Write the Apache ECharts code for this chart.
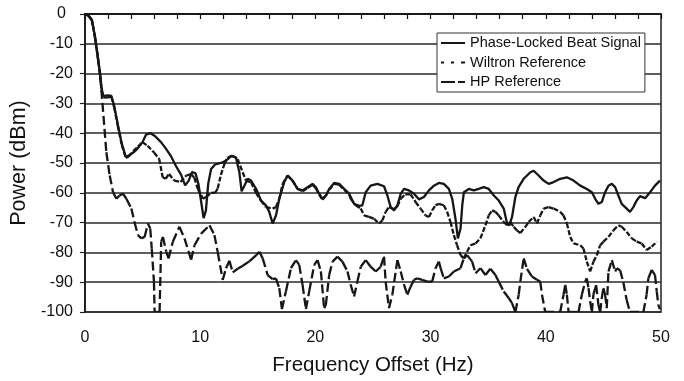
<!DOCTYPE html>
<html><head><meta charset="utf-8">
<script src="https://cdn.jsdelivr.net/npm/echarts@6/dist/echarts.min.js"></script>
<style>html,body{margin:0;padding:0;background:#fff}#c{width:684px;height:381px}</style>
</head><body><div id="c"></div>
<script>
const seriesNames = ['Phase-Locked Beat Signal', 'Wiltron Reference', 'HP Reference'];
const xAxisTitle = 'Frequency Offset (Hz)';
const yAxisTitle = 'Power (dBm)';

const phaseLocked = [[0,0],[0.3,-0.5],[0.6,-2],[0.85,-7],[1.1,-13.7],[1.33,-20.3],[1.45,-25],[1.6,-27.5],[2.0,-27.3],[2.3,-27.5],[2.55,-31],[2.85,-37],[3.2,-43.5],[3.55,-48],[3.8,-47.5],[4.2,-46.5],[4.6,-45],[5.0,-43],[5.3,-40.5],[5.7,-40],[6.1,-41],[6.6,-43],[7.0,-45],[7.45,-47.6],[7.9,-51],[8.35,-54],[8.7,-57.5],[9.0,-56],[9.3,-53],[9.6,-53.5],[9.85,-57],[10.05,-62],[10.3,-68.5],[10.5,-66],[10.7,-57],[10.95,-52],[11.3,-50.5],[11.96,-49.8],[12.4,-48.7],[12.7,-47.6],[13.1,-48.1],[13.4,-53],[13.6,-59.5],[13.84,-57.6],[14.13,-55.3],[14.42,-55.9],[14.9,-59],[15.28,-62.6],[15.71,-64.2],[16.0,-66.4],[16.29,-70.3],[16.58,-67.6],[16.87,-62],[17.3,-56.4],[17.59,-54.2],[18.02,-55.9],[18.46,-58.7],[18.9,-59.2],[19.32,-58.1],[19.75,-57],[20.04,-58.1],[20.33,-60.3],[20.62,-62],[20.91,-60.9],[21.2,-58.7],[21.63,-56.7],[22.07,-57],[22.5,-58.7],[22.93,-60.3],[23.36,-63.7],[23.8,-64.4],[24.08,-64.2],[24.37,-59.8],[24.8,-57.6],[25.38,-57],[25.96,-57.8],[26.25,-60.9],[26.54,-64.8],[26.83,-65.9],[27.12,-64.2],[27.41,-60.3],[27.7,-58.7],[28.12,-59.2],[28.56,-60.3],[28.99,-62.2],[29.42,-61.4],[29.86,-59.2],[30.29,-57.6],[30.72,-56.7],[31.15,-57],[31.59,-58.7],[31.88,-62],[32.16,-68.7],[32.37,-75.3],[32.6,-72],[32.75,-64.2],[32.89,-59.8],[33.32,-58.7],[33.76,-59.2],[34.18,-58.7],[34.62,-58.1],[35.05,-58.7],[35.49,-60.9],[35.92,-62.6],[36.35,-65.3],[36.64,-70.3],[36.84,-70.9],[37.07,-68.1],[37.36,-61.4],[37.65,-58],[38.08,-55.3],[38.66,-53.1],[38.95,-52.6],[39.38,-54.2],[39.81,-55.9],[40.25,-57],[40.68,-56.4],[41.25,-55.3],[41.83,-54.8],[42.41,-55.9],[42.99,-57.6],[43.56,-58.7],[44.0,-59.8],[44.29,-62],[44.57,-63.7],[44.86,-63.1],[45.15,-59.8],[45.44,-57.6],[45.73,-57],[46.02,-58.1],[46.3,-60.9],[46.59,-63.7],[47.02,-65.3],[47.31,-66.4],[47.6,-64.8],[47.89,-62.6],[48.18,-61.1],[48.62,-61.8],[49.05,-59.8],[49.48,-57.6],[49.91,-55.9]];

const wiltronRef = [[0,0],[0.3,-0.5],[0.6,-2],[0.85,-7.5],[1.1,-14],[1.33,-21],[1.45,-25.8],[1.6,-28],[2.0,-28],[2.3,-27.8],[2.55,-31.5],[2.85,-37.5],[3.2,-44],[3.55,-48.3],[3.8,-47.8],[4.2,-46],[4.6,-44.5],[5.0,-43],[5.43,-44.2],[6.0,-46.5],[6.45,-48.7],[6.75,-54.8],[7.0,-55.3],[7.3,-53.7],[7.75,-55.9],[8.3,-56.4],[8.8,-54.2],[9.22,-53.7],[9.5,-55],[9.8,-58.7],[10.24,-62],[10.52,-61.4],[10.95,-60],[11.3,-60],[11.53,-58.5],[11.8,-54],[12.11,-50.3],[12.4,-48.1],[12.83,-47.6],[13.26,-48.7],[13.69,-53.1],[13.98,-55.9],[14.42,-56.5],[14.85,-60],[15.28,-62.6],[15.7,-64.8],[16.29,-65.3],[16.58,-64.8],[16.87,-62],[17.16,-57],[17.59,-54.2],[18.02,-55.9],[18.46,-58.7],[18.9,-59.5],[19.32,-58.4],[19.75,-57.3],[20.04,-58.5],[20.33,-60.6],[20.62,-62.3],[20.91,-61],[21.2,-59],[21.63,-57],[22.07,-57.3],[22.5,-59],[22.93,-60.5],[23.07,-62],[23.5,-64.2],[23.94,-65.3],[24.23,-67.6],[24.66,-68.1],[25.09,-68.7],[25.53,-70.3],[25.82,-69.2],[26.1,-66.4],[26.39,-64.8],[26.83,-65.5],[27.12,-64.5],[27.41,-62],[27.8,-60.5],[28.27,-60.5],[28.7,-63.1],[29.13,-65.3],[29.57,-67.6],[29.86,-68.1],[30.14,-65.9],[30.43,-64.2],[30.72,-63.7],[31.15,-64.2],[31.44,-66.4],[31.73,-69.8],[32.02,-74.2],[32.3,-77.6],[32.6,-80.9],[32.89,-82],[33.17,-79.8],[33.46,-77.6],[33.9,-77],[34.33,-75.3],[34.76,-70.9],[35.05,-67.6],[35.34,-65.9],[35.63,-66.4],[35.92,-67.6],[36.35,-69.8],[36.64,-70.9],[36.92,-69.8],[37.21,-71.4],[37.5,-72.6],[37.79,-73.5],[38.23,-71.4],[38.51,-69.8],[38.95,-68.1],[39.23,-70.3],[39.52,-67.6],[39.81,-65.3],[40.25,-64.8],[40.68,-65.3],[41.25,-66.4],[41.54,-67.6],[41.83,-70.3],[42.12,-74.8],[42.41,-77],[42.99,-77.6],[43.27,-78.7],[43.56,-83.1],[43.85,-86.4],[44.14,-83.1],[44.43,-80.9],[44.72,-77.6],[45.0,-76.4],[45.44,-74.8],[45.87,-72.6],[46.3,-70.9],[46.59,-71.4],[47.02,-73.1],[47.46,-75.3],[47.89,-76.4],[48.33,-77],[48.75,-79.2],[49.19,-78.1],[49.63,-76.4]];

const hpRef = [[0,0],[0.3,-0.5],[0.6,-2],[0.85,-7],[1.1,-14],[1.33,-21],[1.43,-25.5],[1.86,-46.4],[2.15,-54.2],[2.44,-59.8],[2.73,-62],[3.0,-60.9],[3.3,-60.3],[3.6,-62],[4.03,-65.3],[4.3,-69.8],[4.6,-74.2],[4.9,-75.3],[5.18,-74.8],[5.47,-70.3],[5.67,-72],[5.8,-78.7],[5.99,-89.8],[6.05,-100],[6.48,-100],[6.62,-76.4],[6.77,-74.8],[7.06,-79.8],[7.26,-82],[7.63,-76.4],[8.2,-71.4],[8.64,-75.3],[9.22,-82.5],[9.51,-77.6],[10.09,-73.7],[10.81,-70.9],[11.24,-74.2],[11.53,-80],[11.96,-89.2],[12.25,-85.3],[12.54,-82.8],[12.83,-86.7],[13.26,-85.5],[13.7,-84.5],[14.27,-83],[14.85,-81],[15.14,-79.8],[15.43,-82],[15.86,-87.6],[16.29,-89],[16.58,-88.7],[16.87,-92],[17.1,-99],[17.45,-93],[17.88,-85.3],[18.31,-82.6],[18.6,-84.2],[18.89,-90.9],[19.18,-99],[19.47,-93],[19.9,-84.2],[20.19,-82.6],[20.48,-86.4],[20.76,-98.7],[20.91,-97.6],[21.2,-87.6],[21.49,-83.1],[21.92,-81.4],[22.35,-83.1],[22.79,-86.4],[23.07,-90.9],[23.36,-94.8],[23.65,-89.8],[23.94,-84.8],[24.37,-82.6],[24.8,-84.8],[25.24,-86.4],[25.67,-84.8],[25.96,-81.4],[26.1,-89.8],[26.39,-98.7],[26.68,-94.2],[27.12,-82.6],[27.41,-86.4],[27.7,-90.9],[27.98,-94.2],[28.27,-91.5],[28.56,-89.2],[28.85,-88.7],[29.28,-89.2],[29.71,-89.8],[30.14,-89.8],[30.43,-85.3],[30.72,-83.1],[30.87,-85.3],[31.15,-88.7],[31.59,-88.1],[32.02,-86.4],[32.6,-85.3],[32.89,-82],[33.17,-80.9],[33.61,-83.1],[33.9,-87],[34.33,-85.3],[34.76,-87.6],[35.19,-85.5],[35.63,-87.6],[35.91,-89.8],[36.35,-93.1],[36.78,-95.3],[37.07,-97],[37.36,-100],[37.65,-94.2],[37.79,-89.8],[38.08,-82],[38.37,-85.5],[38.8,-88.1],[39.23,-89.2],[39.52,-89.8],[39.67,-94.2],[39.95,-100],[41.25,-100],[41.54,-94.2],[41.69,-90.9],[41.83,-94.2],[41.98,-100],[42.84,-100],[43.13,-94.2],[43.42,-89.8],[43.56,-88.7],[43.71,-92],[43.85,-96.4],[44.0,-100],[44.14,-94],[44.37,-91],[44.57,-97.6],[44.72,-100],[44.86,-95.3],[45.0,-92],[45.15,-94.2],[45.29,-98.7],[45.44,-86.4],[45.73,-82.6],[46.02,-86.4],[46.16,-85.3],[46.45,-86],[46.73,-90],[47.02,-96],[47.31,-100],[48.47,-100],[48.75,-94.2],[48.9,-88.7],[49.19,-85.9],[49.48,-87.6],[49.63,-93.1],[49.77,-97.6],[49.9,-99]];

const FONT = '"Liberation Sans", Arial, sans-serif';
const INK = '#161616';
const LW = 2.3;

function toSegments(pts) {
  const s = [];
  for (let i = 0; i < pts.length - 1; i++) s.push([pts[i][0], pts[i][1], pts[i + 1][0], pts[i + 1][1]]);
  return s;
}
function segRenderer(dash) {
  return function (params, api) {
    const a = api.coord([api.value(0), api.value(1)]);
    const b = api.coord([api.value(2), api.value(3)]);
    return {
      type: 'line',
      shape: { x1: a[0], y1: a[1], x2: b[0], y2: b[1] },
      style: { stroke: INK, lineWidth: LW, lineDash: dash, lineCap: 'butt', fill: null }
    };
  };
}

const chart = echarts.init(document.getElementById('c'), null, { renderer: 'canvas' });
chart.setOption({
  animation: false,
  color: [INK, INK, INK],
  textStyle: { fontFamily: FONT },
  grid: { left: 84, right: 23, top: 14, bottom: 67, show: true, borderColor: '#222', borderWidth: 1.5, backgroundColor: 'transparent' },
  legend: {
    orient: 'vertical', left: 437, top: 33,
    backgroundColor: '#fff', borderColor: '#333', borderWidth: 1,
    padding: [2, 4, 2, 4], itemGap: 3.5, itemWidth: 24, itemHeight: 2,
    textStyle: { fontFamily: FONT, fontSize: 14.5, color: '#111', lineHeight: 16 },
    itemStyle: { color: INK, borderWidth: 0 },
    data: [
      { name: seriesNames[0], icon: 'path://M0,0H24V2H0Z' },
      { name: seriesNames[1], icon: 'path://M0,0H3V2H0Z M10,0H13V2H10Z M20,0H24V2H20Z' },
      { name: seriesNames[2], icon: 'path://M0,0H14V2H0Z M17,0H24V2H17Z' }
    ]
  },
  xAxis: {
    type: 'value', min: 0, max: 50, interval: 10,
    axisLine: { show: true, lineStyle: { color: '#111', width: 1.5 } },
    axisTick: { show: true, length: 5, lineStyle: { color: '#111', width: 1.2 } },
    minorTick: { show: true, splitNumber: 5, length: 5, lineStyle: { color: '#111', width: 1.2 } },
    splitLine: { show: false },
    axisLabel: { fontSize: 16, color: '#111', margin: 18, fontFamily: FONT },
    name: xAxisTitle, nameLocation: 'middle', nameGap: 43,
    nameTextStyle: { fontSize: 20.5, color: '#111', fontFamily: FONT }
  },
  yAxis: {
    type: 'value', min: -100, max: 0, interval: 10,
    axisLine: { show: true, lineStyle: { color: '#111', width: 1.5 } },
    axisTick: { show: true, length: 5, lineStyle: { color: '#222', width: 1.2 } },
    splitLine: { show: true, lineStyle: { color: '#2a2a2a', width: 1.5 } },
    axisLabel: {
      fontSize: 16, color: '#111', margin: 12, fontFamily: FONT,
      formatter: function (v) { return v === 0 ? '{z|0}' : String(v); },
      rich: { z: { fontSize: 16, color: '#111', fontFamily: FONT, padding: [0, 7, 0, 0] } }
    },
    name: yAxisTitle, nameLocation: 'middle', nameGap: 49,
    nameTextStyle: { fontSize: 21.5, color: '#111', fontFamily: FONT }
  },
  series: [
    {
      name: seriesNames[0], type: 'line', data: phaseLocked, showSymbol: false, symbol: 'none',
      lineStyle: { color: INK, width: LW }, itemStyle: { color: INK }, z: 5
    },
    {
      name: seriesNames[1], type: 'custom', data: toSegments(wiltronRef), clip: true,
      encode: { x: [0, 2], y: [1, 3] }, itemStyle: { color: INK },
      renderItem: segRenderer([5, 2]), z: 4
    },
    {
      name: seriesNames[2], type: 'custom', data: toSegments(hpRef), clip: true,
      encode: { x: [0, 2], y: [1, 3] }, itemStyle: { color: INK },
      renderItem: segRenderer([9, 4]), z: 3
    }
  ]
});
</script>
</body></html>
